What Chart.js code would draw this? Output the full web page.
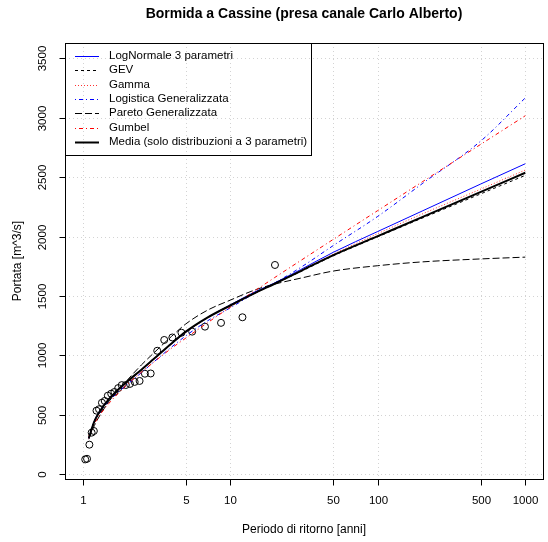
<!DOCTYPE html>
<html>
<head>
<meta charset="utf-8">
<script src="https://cdn.jsdelivr.net/npm/chart.js@4.4.0/dist/chart.umd.min.js"></script>
<style>
  html, body { margin: 0; padding: 0; background: #fff; }
  #wrap { width: 548px; height: 542px; }
</style>
</head>
<body>
<div id="wrap"><canvas id="freqChart"></canvas></div>
<script>
// return periods (anni) at which the fitted curves were read
const returnPeriods = [1.1, 1.2, 1.3, 1.5, 1.75, 2, 2.5, 3, 4, 5, 7, 10, 15, 20, 30, 50, 100, 200, 500, 1000];

// fitted curves, portata [m^3/s]
const logNormale3 = [300, 450, 530, 632, 718, 780, 880, 965, 1098, 1195, 1318, 1425, 1540, 1610, 1722, 1868, 2043, 2215, 2443, 2613];
const gev         = [305, 447, 527, 630, 713, 777, 878, 965, 1100, 1197, 1318, 1420, 1530, 1602, 1705, 1838, 1998, 2155, 2360, 2515];
const gamma       = [300, 440, 522, 625, 708, 772, 875, 962, 1097, 1193, 1315, 1418, 1530, 1603, 1712, 1852, 2025, 2190, 2400, 2560];
const logistica   = [310, 440, 515, 615, 695, 755, 855, 940, 1070, 1165, 1290, 1400, 1530, 1610, 1740, 1925, 2170, 2445, 2805, 3167];
const pareto      = [295, 410, 490, 610, 705, 790, 920, 1015, 1160, 1265, 1380, 1465, 1555, 1600, 1650, 1710, 1755, 1787, 1812, 1827];
const gumbel      = [324, 425, 495, 594, 684, 754, 859, 939, 1060, 1146, 1274, 1406, 1552, 1655, 1798, 1977, 2219, 2460, 2777, 3017];
const media       = [305, 445, 525, 630, 715, 780, 880, 965, 1100, 1200, 1318, 1420, 1530, 1603, 1710, 1844, 2004, 2164, 2376, 2537];

// observed annual maxima with their plotting return period
const obsPeriods = [20.1, 12.1, 8.66, 6.74, 5.52, 4.67, 4.05, 3.57, 3.2, 2.89, 2.64, 2.43, 2.25, 2.09, 1.96,
                    1.84, 1.74, 1.64, 1.56, 1.48, 1.41, 1.35, 1.29, 1.24, 1.19, 1.15, 1.11, 1.07, 1.04];
const obsFlows   = [1761, 1321, 1274, 1242, 1200, 1191, 1151, 1130, 1039, 848, 846, 785, 777, 760, 751,
                    750, 725, 692, 678, 661, 617, 602, 547, 535, 364, 350, 249, 130, 125];

const xTickValues = [1, 5, 10, 50, 100, 500, 1000];
const yTickValues = [0, 500, 1000, 1500, 2000, 2500, 3000, 3500];

const FONT = '"Liberation Sans", Arial, Helvetica, sans-serif';

function toPoints(xs, ys) {
    return xs.map((x, i) => ({ x: x, y: ys[i] }));
}

function curve(label, values, color, dash, width, legendIndex) {
    return {
        label: label,
        data: toPoints(returnPeriods, values),
        borderColor: color,
        borderDash: dash,
        borderWidth: width,
        pointRadius: 0,
        fill: false,
        cubicInterpolationMode: 'monotone',
        legendIndex: legendIndex
    };
}

// first dataset is drawn on top in Chart.js, so Media goes first and the points last
const datasets = [
    curve('Media (solo distribuzioni a 3 parametri)', media, '#000000', [], 2, 6),
    curve('Gumbel', gumbel, '#ff0000', [1, 3, 4, 3], 1, 5),
    curve('Pareto Generalizzata', pareto, '#000000', [7, 3], 1, 4),
    curve('Logistica Generalizzata', logistica, '#0000ff', [1, 3, 4, 3], 1, 3),
    curve('Gamma', gamma, '#ff3030', [1, 2], 1, 2),
    curve('GEV', gev, '#000000', [3, 3], 1, 1),
    curve('LogNormale 3 parametri', logNormale3, '#0000ff', [], 1, 0),
    {
        label: 'osservati',
        data: toPoints(obsPeriods, obsFlows),
        showLine: false,
        pointStyle: 'circle',
        pointRadius: 3.5,
        pointBorderWidth: 1,
        pointBorderColor: '#000000',
        pointBackgroundColor: 'rgba(0,0,0,0)'
    }
];

function fmtTick(v) {
    return String(v);
}

const rPlot = {
    id: 'rPlot',
    beforeDatasetsDraw(chart) {
        const { ctx, chartArea: a, scales: { x, y } } = chart;
        ctx.save();
        ctx.strokeStyle = '#d3d3d3';
        ctx.lineWidth = 1;
        ctx.setLineDash([1, 3]);
        xTickValues.forEach(t => {
            const px = Math.round(x.getPixelForValue(t)) + 0.5;
            ctx.beginPath();
            ctx.moveTo(px, a.top);
            ctx.lineTo(px, a.bottom);
            ctx.stroke();
        });
        yTickValues.forEach(t => {
            const py = Math.round(y.getPixelForValue(t)) + 0.5;
            ctx.beginPath();
            ctx.moveTo(a.left, py);
            ctx.lineTo(a.right, py);
            ctx.stroke();
        });
        ctx.restore();
    },
    afterDatasetsDraw(chart) {
        const { ctx, chartArea: a, scales: { x, y } } = chart;
        const L = Math.round(a.left) + 0.5, R = Math.round(a.right) + 0.5;
        const T = Math.round(a.top) + 0.5, B = Math.round(a.bottom) + 0.5;
        ctx.save();
        ctx.setLineDash([]);
        ctx.strokeStyle = '#000';
        ctx.fillStyle = '#000';
        ctx.lineWidth = 1;
        ctx.strokeRect(L, T, R - L, B - T);

        // x axis
        ctx.font = '11.5px ' + FONT;
        ctx.textAlign = 'center';
        ctx.textBaseline = 'middle';
        xTickValues.forEach(t => {
            const px = Math.round(x.getPixelForValue(t)) + 0.5;
            ctx.beginPath();
            ctx.moveTo(px, B);
            ctx.lineTo(px, B + 6);
            ctx.stroke();
            ctx.fillText(fmtTick(t), px, 501);
        });
        // y axis
        yTickValues.forEach(t => {
            const py = Math.round(y.getPixelForValue(t)) + 0.5;
            ctx.beginPath();
            ctx.moveTo(L - 6, py);
            ctx.lineTo(L, py);
            ctx.stroke();
            ctx.save();
            ctx.translate(43, py);
            ctx.rotate(-Math.PI / 2);
            ctx.fillText(fmtTick(t), 0, 0);
            ctx.restore();
        });

        // titles
        const cx = (a.left + a.right) / 2;
        ctx.font = 'bold 14px ' + FONT;
        ctx.fillText('Bormida a Cassine (presa canale Carlo Alberto)', cx, 14);
        ctx.font = '12px ' + FONT;
        ctx.fillText('Periodo di ritorno [anni]', cx, 530);
        ctx.save();
        ctx.translate(18, (a.top + a.bottom) / 2);
        ctx.rotate(-Math.PI / 2);
        ctx.fillText('Portata [m^3/s]', 0, 0);
        ctx.restore();

        // legend (topleft, boxed, transparent background)
        const items = chart.data.datasets
            .filter(d => d.legendIndex !== undefined)
            .sort((p, q) => p.legendIndex - q.legendIndex);
        const boxR = 311.5, boxB = 155.5;
        ctx.strokeRect(L, T, boxR - L, boxB - T);
        ctx.font = '11.5px ' + FONT;
        ctx.textAlign = 'left';
        items.forEach((d, i) => {
            const ly = 56 + i * 14.3;
            ctx.save();
            ctx.strokeStyle = d.borderColor;
            ctx.lineWidth = d.borderWidth;
            ctx.setLineDash(d.borderDash);
            ctx.beginPath();
            ctx.moveTo(75, Math.round(ly) + 0.5);
            ctx.lineTo(99, Math.round(ly) + 0.5);
            ctx.stroke();
            ctx.restore();
            ctx.fillText(d.label, 109, ly);
        });
        ctx.restore();
    }
};

new Chart(document.getElementById('freqChart').getContext('2d'), {
    type: 'line',
    data: { datasets: datasets },
    options: {
        responsive: true,
        maintainAspectRatio: false,
        devicePixelRatio: 1,
        animation: false,
        layout: { padding: { left: 65, right: 3, top: 43, bottom: 63 } },
        plugins: {
            legend: { display: false },
            tooltip: { enabled: false },
            title: { display: false }
        },
        scales: {
            x: {
                type: 'logarithmic',
                min: Math.pow(10, -0.12),
                max: Math.pow(10, 3.12),
                display: false
            },
            y: {
                type: 'linear',
                min: -40,
                max: 3629,
                display: false
            }
        }
    },
    plugins: [rPlot]
});
</script>
</body>
</html>
